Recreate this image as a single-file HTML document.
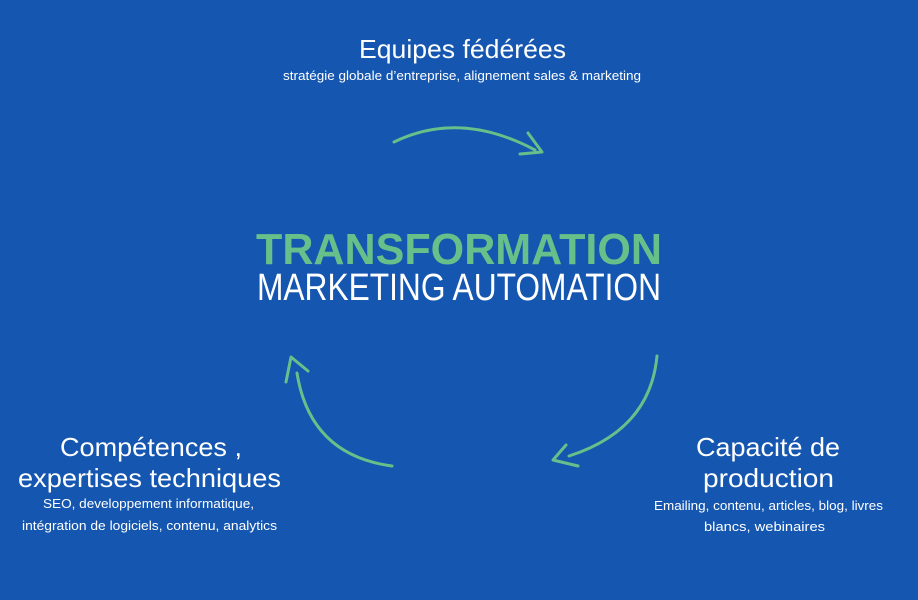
<!DOCTYPE html>
<html><head><meta charset="utf-8"><style>
html,body{margin:0;padding:0;background:#1456b0;}
svg{display:block}
text{font-family:"Liberation Sans",sans-serif;fill:#fff}
</style></head><body>
<svg width="918" height="600" viewBox="0 0 918 600" xmlns="http://www.w3.org/2000/svg">
<rect width="918" height="600" fill="#1456b0"/>
<text x="359" y="58" font-size="26" textLength="207" lengthAdjust="spacingAndGlyphs">Equipes fédérées</text>
<text x="283" y="80" font-size="13" textLength="358" lengthAdjust="spacingAndGlyphs">stratégie globale d’entreprise, alignement sales &amp; marketing</text>
<text x="256" y="264" font-size="44" font-weight="bold" style="fill:#66c08a" textLength="406" lengthAdjust="spacingAndGlyphs">TRANSFORMATION</text>
<text x="257" y="300" font-size="38" textLength="404" lengthAdjust="spacingAndGlyphs">MARKETING AUTOMATION</text>

<text x="60" y="456" font-size="26" textLength="182" lengthAdjust="spacingAndGlyphs">Compétences ,</text>
<text x="18" y="487" font-size="26" textLength="263" lengthAdjust="spacingAndGlyphs">expertises techniques</text>
<text x="43" y="508" font-size="13" textLength="211" lengthAdjust="spacingAndGlyphs">SEO, developpement informatique,</text>
<text x="22" y="530" font-size="13" textLength="255" lengthAdjust="spacingAndGlyphs">intégration de logiciels, contenu, analytics</text>

<text x="696" y="456" font-size="26" textLength="144" lengthAdjust="spacingAndGlyphs">Capacité de</text>
<text x="703" y="487" font-size="26" textLength="131" lengthAdjust="spacingAndGlyphs">production</text>
<text x="654" y="510" font-size="13" textLength="229" lengthAdjust="spacingAndGlyphs">Emailing, contenu, articles, blog, livres</text>
<text x="704" y="531" font-size="13" textLength="121" lengthAdjust="spacingAndGlyphs">blancs, webinaires</text>

<g fill="none" stroke="#66c08a" stroke-width="3" stroke-linecap="round" stroke-linejoin="round">
<path d="M394 142 Q460 110 535 150"/>
<path d="M528 133 L542 152 L520 154"/>
<path d="M657 356 Q650 430 569 456"/>
<path d="M566 445 L553 460 L578 466"/>
<path d="M392 466 Q310 455 297 373"/>
<path d="M286 382 L291 357 L308 371"/>
</g>
</svg>
</body></html>
